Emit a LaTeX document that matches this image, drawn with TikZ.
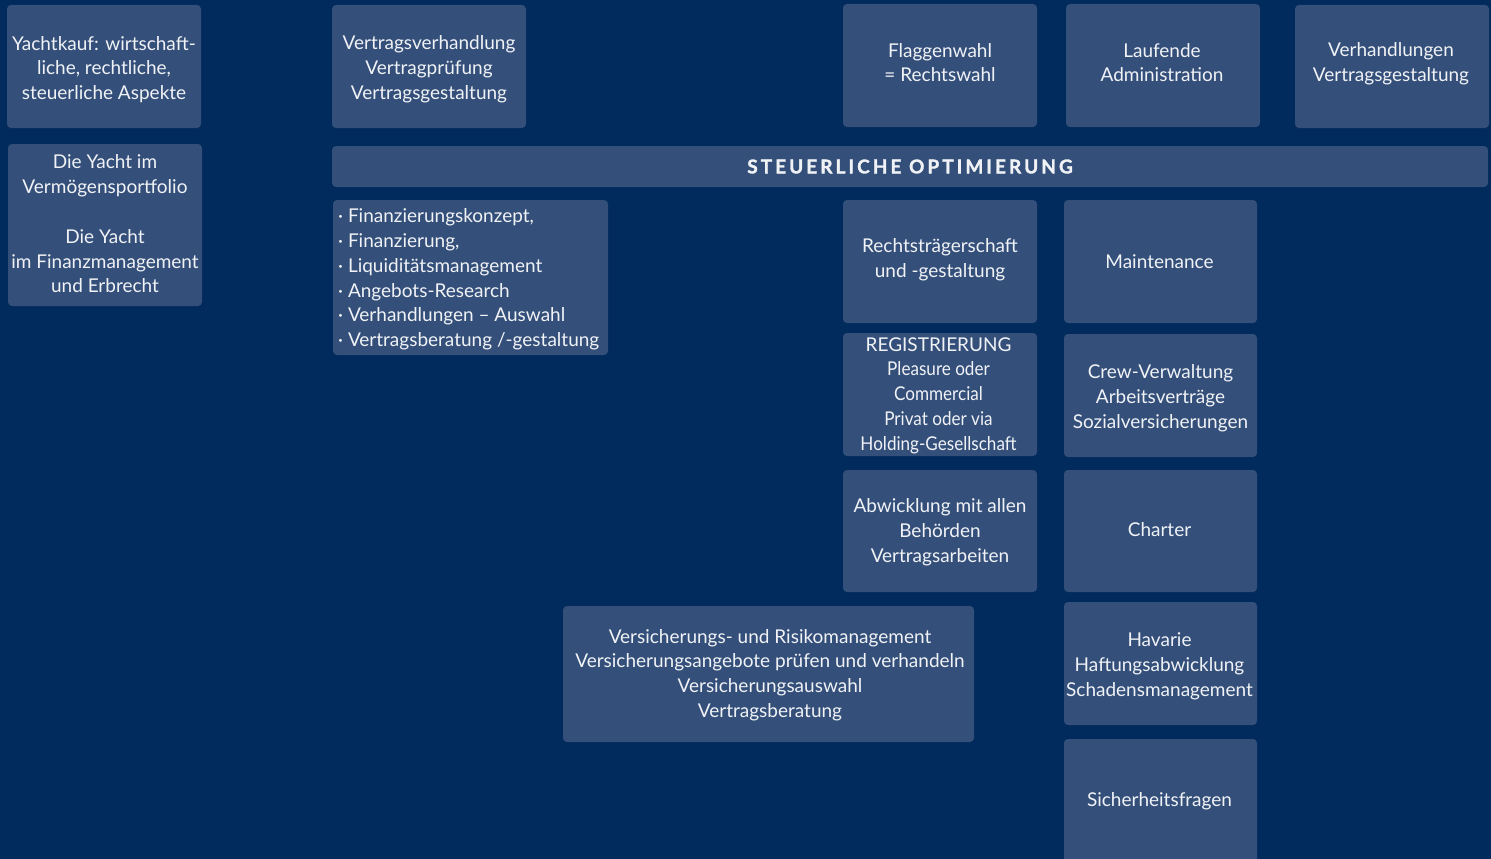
\documentclass[tikz,border=0pt]{standalone}
\usepackage{fontspec}
\setmainfont{Lato}
\definecolor{bgblue}{RGB}{0,43,92}
\definecolor{boxblue}{RGB}{52,80,122}
\definecolor{txt}{RGB}{240,242,246}
\begin{document}
\begin{tikzpicture}[x=1pt,y=-1pt,
  box/.style={fill=boxblue, rounded corners=4pt, inner sep=0pt},
  lbl/.style={inner sep=0pt, text=txt, align=center, font=\fontsize{19}{24.8}\selectfont},
  banner/.style={fill=boxblue, rounded corners=4pt, inner sep=0pt, text=txt,
    font=\fontsize{19}{20}\selectfont\bfseries\addfontfeatures{LetterSpace=16,FakeBold=1.6}}
]
\fill[bgblue] (0,0) rectangle (1491,859);
\useasboundingbox (0,0) rectangle (1491,859);

% top row
\node[box, minimum width=194pt, minimum height=123pt] (kauf) at (104,66.5) {};
\node[lbl] (kauf-t) at (104,69.5) {Yachtkauf: wirtschaft-\\liche, rechtliche,\\steuerliche Aspekte};
\node[box, minimum width=194pt, minimum height=123pt] (vertrag) at (429,66.5) {};
\node[lbl] (vertrag-t) at (429,69.5) {Vertragsverhandlung\\Vertragprüfung\\Vertragsgestaltung};
\node[box, minimum width=194pt, minimum height=123pt] (flagge) at (940,65.5) {};
\node[lbl] (flagge-t) at (940,62.5) {Flaggenwahl\\= Rechtswahl};
\node[box, minimum width=194pt, minimum height=123pt] (lauf) at (1163,65.5) {};
\node[lbl] (lauf-t) at (1162,62.5) {Laufende\\Administration};
\node[box, minimum width=194pt, minimum height=123pt] (verh) at (1392,66.5) {};
\node[lbl] (verh-t) at (1391,63.5) {Verhandlungen\\Vertragsgestaltung};

% left column
\node[box, minimum width=194pt, minimum height=162pt] (portfolio) at (105,225) {};
\node[lbl] (portfolio-t) at (105,224)
  {Die Yacht im\\Vermögensportfolio\\[24.8pt]Die Yacht\\im Finanzmanagement\\und Erbrecht};

% banner
\node[banner, minimum width=1156pt, minimum height=41pt] (steuer) at (910,166.5)
  {STEUERLICHE OPTIMIERUNG};

% list box
\node[box, minimum width=275pt, minimum height=155pt] (finanz) at (470.5,277.5) {};
\node[lbl, anchor=west, align=left] (finanz-t) at (338,279.5)
  {· Finanzierungskonzept,\\· Finanzierung,\\· Liquiditätsmanagement\\· Angebots-Research\\· Verhandlungen – Auswahl\\· Vertragsberatung /-gestaltung};

% middle column
\node[box, minimum width=194pt, minimum height=123pt] (recht) at (940,261.5) {};
\node[lbl] (recht-t) at (940,260) {Rechtsträgerschaft\\und -gestaltung};
\node[box, minimum width=194pt, minimum height=123pt] (reg) at (940,394.5) {};
\node[lbl] (reg-t) at (938.5,395.5)
  {REGISTRIERUNG\\{\addfontfeatures{FakeStretch=0.9}Pleasure oder}\\{\addfontfeatures{FakeStretch=0.9}Commercial}\\{\addfontfeatures{FakeStretch=0.9}Privat oder via}\\{\addfontfeatures{FakeStretch=0.9}Holding-Gesellschaft}};
\node[box, minimum width=194pt, minimum height=122pt] (abw) at (940,531) {};
\node[lbl] (abw-t) at (940,532) {Abwicklung mit allen\\Behörden\\Vertragsarbeiten};

% right column
\node[box, minimum width=193pt, minimum height=123pt] (maint) at (1160.5,261.5) {};
\node[lbl] (maint-t) at (1159.5,261.5) {Maintenance};
\node[box, minimum width=193pt, minimum height=123pt] (crew) at (1160.5,395.5) {};
\node[lbl] (crew-t) at (1160.5,398) {Crew-Verwaltung\\Arbeitsverträge\\Sozialversicherungen};
\node[box, minimum width=193pt, minimum height=122pt] (charter) at (1160.5,531) {};
\node[lbl] (charter-t) at (1159.5,530) {Charter};
\node[box, minimum width=193pt, minimum height=123pt] (havarie) at (1160.5,663.5) {};
\node[lbl] (havarie-t) at (1159.5,666.5) {Havarie\\Haftungsabwicklung\\Schadensmanagement};
\node[box, minimum width=193pt, minimum height=130pt] (sicher) at (1160.5,804) {};
\node[lbl] (sicher-t) at (1159.5,801) {Sicherheitsfragen};

% insurance
\node[box, minimum width=411pt, minimum height=136pt] (vers) at (768.5,674) {};
\node[lbl] (vers-t) at (770,675)
  {Versicherungs- und Risikomanagement\\Versicherungsangebote prüfen und verhandeln\\Versicherungsauswahl\\Vertragsberatung};
\end{tikzpicture}
\end{document}
